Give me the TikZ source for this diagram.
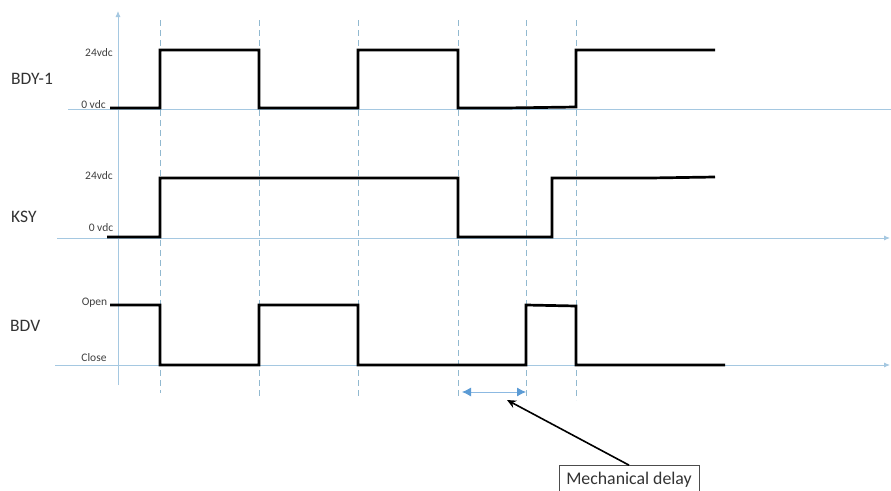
\documentclass[tikz,border=0pt]{standalone}
\usepackage{fontspec}
\setmainfont{Carlito}
\usetikzlibrary{arrows.meta}
\definecolor{axisblue}{RGB}{165,200,225}
\definecolor{dashblue}{RGB}{145,185,208}
\definecolor{arrowblue}{RGB}{91,155,213}
\tikzset{
  axisline/.style={draw=axisblue,line width=0.9pt},
  guide/.style={draw=dashblue,line width=0.8pt,dash pattern=on 6pt off 4pt},
  signal/.style={draw=black,line width=2.7pt,line join=miter},
  levellabel/.style={font=\fontsize{11.5}{13}\selectfont,text=black!75,inner sep=0pt},
  signame/.style={font=\fontsize{17.5}{20}\selectfont,text=black!80,inner sep=0pt,anchor=west},
}
\begin{document}
\begin{tikzpicture}[x=1pt,y=-1pt]
\useasboundingbox (0,0) rectangle (891,490);
\fill[white] (0,0) rectangle (891,490);
% axes
\coordinate (va) at (118,385); \coordinate (vb) at (118,11);
\draw[axisline,-{Latex[length=6pt,width=5pt]}] (va) -- (vb);
\coordinate (a1) at (68,109.5); \coordinate (a1e) at (891,109.5);
\coordinate (a2) at (57,238); \coordinate (a2e) at (890,238);
\coordinate (a3) at (55,365); \coordinate (a3e) at (890,365);
\draw[axisline] (a1) -- (a1e);
\draw[axisline,-{Latex[length=6pt,width=5pt]}] (a2) -- (a2e);
\draw[axisline,-{Latex[length=6pt,width=5pt]}] (a3) -- (a3e);
% guides
\foreach \n/\x/\yb in {g1/160/393,g2/259/396,g3/358/396,g4/458/396,g5/526/400,g6/576/400}{
  \coordinate (\n t) at (\x,20); \coordinate (\n b) at (\x,\yb);
  \draw[guide] (\n t) -- (\n b);
}
% signals
\coordinate (s1) at (110,108);
\draw[signal] (s1) -- (160,108) -- (160,50) -- (259,50) -- (259,108) -- (358,108) -- (358,50) -- (458,50) -- (458,108) -- (505,108) -- (576,107) -- (576,50) -- (715,50);
\coordinate (s2) at (107,237);
\draw[signal] (s2) -- (160,237) -- (160,178) -- (458,178) -- (458,237) -- (552,237) -- (552,178) -- (650,178) -- (715,177);
\coordinate (s3) at (110,305);
\draw[signal] (s3) -- (160,305) -- (160,365) -- (259,365) -- (259,305) -- (358,305) -- (358,365) -- (526,365) -- (526,305) -- (576,306) -- (576,365) -- (725,365);
% level labels
\node[levellabel] (l1) at (99,53) {24vdc};
\node[levellabel] (l2) at (93.5,105) {0 vdc};
\node[levellabel] (l3) at (99,176) {24vdc};
\node[levellabel] (l4) at (101,228) {0 vdc};
\node[levellabel] (l5) at (94.5,303) {Open};
\node[levellabel] (l6) at (94,358) {Close};
% names
\node[signame] (n1) at (11,79) {BDY-1};
\node[signame] (n2) at (11,217) {KSY};
\node[signame] (n3) at (10,326) {BDV};
% delay
\coordinate (d1) at (462,392); \coordinate (d2) at (526,392);
\draw[draw=arrowblue!70,line width=0.9pt,{Latex[length=9pt,width=9pt,color=arrowblue]}-{Latex[length=9pt,width=9pt,color=arrowblue]}] (d1) -- (d2);
\node[draw=black!70,line width=0.7pt,minimum width=140pt,minimum height=28pt,inner sep=0pt,font=\fontsize{17.8}{20}\selectfont,text=black!80,fill=white] (box) at (629,479.5) {Mechanical delay};
\coordinate (tip) at (507,400);
\draw[draw=black,line width=1.6pt,-{Stealth[length=9pt,width=8pt]}] (box.north) -- (tip);
\end{tikzpicture}
\end{document}
